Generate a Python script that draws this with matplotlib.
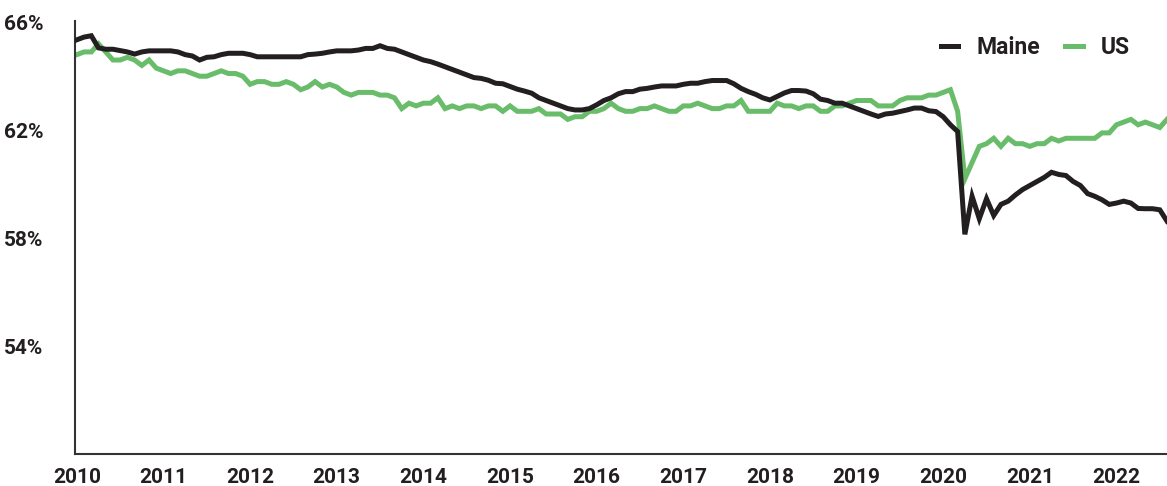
import matplotlib
matplotlib.use("Agg")
import matplotlib.pyplot as plt
from matplotlib.lines import Line2D

# Monthly labor force participation rate, Jan 2010 - Aug 2022
years = list(range(2010, 2023))

maine = [
    65.35, 65.45, 65.5, 65.05, 65.0, 65.0, 64.95, 64.9, 64.82, 64.9, 64.94, 64.94,
    64.94, 64.94, 64.9, 64.8, 64.75, 64.6, 64.7, 64.72, 64.8, 64.85, 64.85, 64.85,
    64.8, 64.72, 64.72, 64.72, 64.72, 64.72, 64.72, 64.72, 64.8, 64.82, 64.85, 64.9,
    64.94, 64.94, 64.94, 64.97, 65.03, 65.03, 65.13, 65.03, 65.0, 64.9, 64.8, 64.7,
    64.6, 64.54, 64.45, 64.35, 64.25, 64.15, 64.05, 63.95, 63.92, 63.85, 63.74, 63.72,
    63.62, 63.52, 63.45, 63.37, 63.2, 63.1, 63.0, 62.9, 62.8, 62.75, 62.75, 62.8,
    62.94, 63.1, 63.2, 63.35, 63.43, 63.43, 63.52, 63.55, 63.6, 63.64, 63.64, 63.64,
    63.7, 63.74, 63.74, 63.8, 63.84, 63.84, 63.84, 63.72, 63.55, 63.43, 63.33, 63.2,
    63.12, 63.25, 63.38, 63.47, 63.47, 63.45, 63.35, 63.15, 63.1, 63.0, 63.0, 62.9,
    62.8, 62.7, 62.6, 62.51, 62.6, 62.63, 62.69, 62.75, 62.82, 62.82, 62.72, 62.69,
    62.5, 62.2, 61.95, 58.14, 59.55, 58.72, 59.46, 58.84, 59.25, 59.37, 59.6, 59.8,
    59.95, 60.1, 60.25, 60.44, 60.36, 60.32, 60.1, 59.95, 59.65, 59.55, 59.42, 59.25,
    59.3, 59.37, 59.3, 59.1, 59.09, 59.09, 59.05, 58.63,
]

us = [
    64.8, 64.9, 64.9, 65.2, 64.9, 64.6, 64.6, 64.7, 64.6, 64.4, 64.6, 64.3,
    64.2, 64.1, 64.2, 64.2, 64.1, 64.0, 64.0, 64.1, 64.2, 64.1, 64.1, 64.0,
    63.7, 63.8, 63.8, 63.7, 63.7, 63.8, 63.7, 63.5, 63.6, 63.8, 63.6, 63.7,
    63.6, 63.4, 63.3, 63.4, 63.4, 63.4, 63.3, 63.3, 63.2, 62.8, 63.0, 62.9,
    63.0, 63.0, 63.2, 62.8, 62.9, 62.8, 62.9, 62.9, 62.8, 62.9, 62.9, 62.7,
    62.9, 62.7, 62.7, 62.7, 62.8, 62.6, 62.6, 62.6, 62.4, 62.5, 62.5, 62.7,
    62.7, 62.8, 63.0, 62.8, 62.7, 62.7, 62.8, 62.8, 62.9, 62.8, 62.7, 62.7,
    62.9, 62.9, 63.0, 62.9, 62.8, 62.8, 62.9, 62.9, 63.1, 62.7, 62.7, 62.7,
    62.7, 63.0, 62.9, 62.9, 62.8, 62.9, 62.9, 62.7, 62.7, 62.9, 62.9, 63.0,
    63.1, 63.1, 63.1, 62.9, 62.9, 62.9, 63.1, 63.2, 63.2, 63.2, 63.3, 63.3,
    63.4, 63.5, 62.7, 60.2, 60.8, 61.4, 61.5, 61.7, 61.4, 61.7, 61.5, 61.5,
    61.4, 61.5, 61.5, 61.7, 61.6, 61.7, 61.7, 61.7, 61.7, 61.7, 61.9, 61.9,
    62.2, 62.3, 62.4, 62.2, 62.3, 62.2, 62.1, 62.4,
]

y_ticks = [54, 58, 62, 66]

DARK = "#231f20"
GREEN = "#69bd6a"
FONT = "Roboto"

plt.rcParams["font.family"] = [FONT, "DejaVu Sans"]

fig = plt.figure(figsize=(11.67, 4.86), dpi=100)
ax = fig.add_axes([0.0643, 0.0658, 0.9357, 0.8912])

months = list(range(len(maine)))
ax.plot(months, us, color=GREEN, lw=3.6, solid_joinstyle="miter", zorder=2)
ax.plot(months, maine, color=DARK, lw=3.6, solid_joinstyle="miter", zorder=3)

ax.set_xlim(-0.25, len(maine) - 1)
ax.set_ylim(50, 66.05)

ax.set_xticks([12 * k for k in range(len(years))])
ax.set_xticklabels([str(y) for y in years])
ax.set_yticks(y_ticks)
ax.set_yticklabels([f"{v}%" for v in y_ticks])
ax.tick_params(length=0, labelsize=15, colors=DARK)
ax.tick_params(axis="x", pad=10)
ax.tick_params(axis="y", pad=23)
for lab in ax.get_xticklabels() + ax.get_yticklabels():
    lab.set_fontweight("bold")

for side in ("top", "right"):
    ax.spines[side].set_visible(False)
for side in ("left", "bottom"):
    ax.spines[side].set_color("#333333")
    ax.spines[side].set_linewidth(1.5)

handles = [
    Line2D([], [], color=DARK, lw=3.6),
    Line2D([], [], color=GREEN, lw=3.6),
]
ax.legend(handles, ["Maine", "US"], loc="upper right", bbox_to_anchor=(0.985, 1.012),
          ncol=2, frameon=False, handlelength=0.75, handletextpad=0.8, columnspacing=1.1,
          prop={"family": FONT, "size": 16.5, "weight": "bold"}, labelcolor=DARK)

fig.savefig("out.png", dpi=100)
